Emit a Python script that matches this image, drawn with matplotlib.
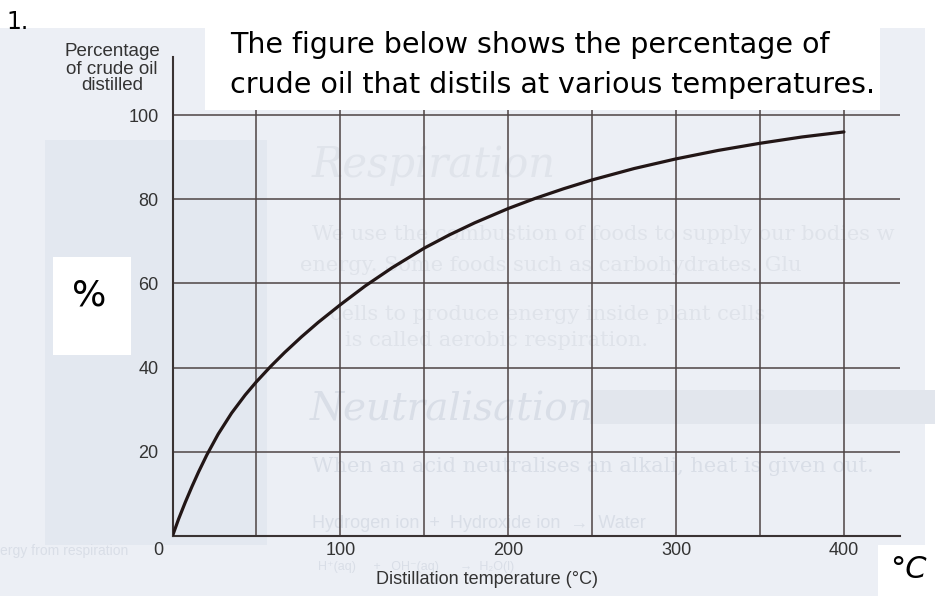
import matplotlib.pyplot as plt
from matplotlib.patches import Rectangle

# curve (temperature in degC, percentage distilled)
temp = [0, 3.6, 7.6, 11.6, 15.5, 20.5, 27.2, 35.2, 43.3, 50, 58.5, 66.8, 76.8,
        86.8, 100, 114.8, 130.9, 150, 165, 180, 200, 216, 233, 250, 275, 300,
        325, 350, 375, 400]
pct = [0, 4.0, 8.0, 11.75, 15.2, 19.3, 24.2, 29.2, 33.5, 36.65, 40.3, 43.6,
       47.3, 50.75, 54.95, 59.4, 63.75, 68.4, 71.55, 74.4, 77.8, 80.2, 82.5,
       84.6, 87.3, 89.6, 91.6, 93.3, 94.8, 96.0]

x_grid = [50, 100, 150, 200, 250, 300, 350, 400]
x_labels = ['', '100', '', '200', '', '300', '', '400']
y_grid = [20, 40, 60, 80, 100]

W, H = 935, 596


def fx(x):
    return x / W


def fy(y):
    return 1 - y / H


def box(x0, y0, x1, y1, color, z):
    fig.add_artist(Rectangle((fx(x0), fy(y1)), (x1 - x0) / W, (y1 - y0) / H,
                             transform=fig.transFigure, facecolor=color,
                             edgecolor='none', zorder=z))


def ghost(x, y, s, size, color='#d9dee7', **kw):
    fig.text(fx(x), fy(y), s, fontsize=size, color=color, va='center',
             zorder=-1, **kw)


fig = plt.figure(figsize=(9.35, 5.96), dpi=100)
fig.patch.set_facecolor('white')

# scanned page background with the faint text that shows through
box(0, 28, 925, 596, '#eceff5', -3)
box(45, 140, 267, 545, '#e3e8f0', -2)
box(590, 390, 935, 424, '#e2e6ed', -2)

serif = 'DejaVu Serif'
sans = ['Liberation Sans', 'DejaVu Sans']
ghost(312, 165, 'Respiration', 30, '#e0e4eb', style='italic', family=serif)
ghost(312, 235, 'We use the combustion of foods to supply our bodies w', 15,
      '#dfe3ea', family=serif)
ghost(300, 265, 'energy. Some foods such as carbohydrates. Glu', 15,
      '#dfe3ea', family=serif)
ghost(330, 315, 'cells to produce energy inside plant cells', 15,
      '#dfe3ea', family=serif)
ghost(345, 340, 'is called aerobic respiration.', 15, '#dfe3ea', family=serif)
ghost(310, 410, 'Neutralisation', 28, style='italic', family=serif)
ghost(312, 466, 'When an acid neutralises an alkali, heat is given out.', 15,
      family=serif)
ghost(312, 523, 'Hydrogen ion  +  Hydroxide ion  \u2192  Water', 13, family=sans)
ghost(318, 567, 'H\u207a(aq)     +   OH\u207b(aq)      \u2192  H\u2082O(l)', 9,
      family=sans)
ghost(0, 551, 'ergy from respiration', 10, family=sans)

ax = fig.add_axes([fx(172.5), fy(536), (900 - 172.5) / W, (536 - 57) / H])
ax.set_facecolor('none')
ax.set_xlim(0, 433.4)
ax.set_ylim(0, 113.8)

for v in x_grid:
    ax.axvline(v, color='#4d4444', lw=1.1, zorder=1)
for v in y_grid:
    ax.axhline(v, color='#4d4444', lw=1.1, zorder=1)

ax.plot(temp, pct, color='#221616', lw=2.3, solid_capstyle='round',
        solid_joinstyle='round', zorder=3)

for s in ['top', 'right']:
    ax.spines[s].set_visible(False)
for s in ['left', 'bottom']:
    ax.spines[s].set_color('#3a3333')
    ax.spines[s].set_linewidth(1.5)

ax.set_xticks(x_grid)
ax.set_xticklabels(x_labels)
ax.set_yticks(y_grid)
ax.tick_params(length=0, labelsize=13, labelcolor='#333333')
ax.tick_params(axis='x', pad=4)
ax.tick_params(axis='y', pad=10)
for lab in ax.get_xticklabels() + ax.get_yticklabels():
    lab.set_family('Liberation Sans')
ax.annotate('0', (0, 0), xytext=(-10.5, -4), textcoords='offset points',
            ha='center', va='top', fontsize=13, color='#333333',
            family='Liberation Sans')

fig.text(fx(112), fy(69), 'Percentage\nof crude oil\ndistilled', ha='center',
         va='center', fontsize=13.5, color='#333333', family='Liberation Sans',
         linespacing=1.0)
fig.text(fx(487), fy(580), 'Distillation temperature (\u00b0C)', ha='center',
         va='center', fontsize=13, color='#333333', family='Liberation Sans')

# white cut-outs pasted onto the scan
box(205, 28, 880, 110, 'white', 5)
box(53, 257, 131, 355, 'white', 5)
box(878, 545, 935, 596, 'white', 5)

fig.text(fx(230), fy(45), 'The figure below shows the percentage of', fontsize=20.5,
         color='black', va='center', ha='left', zorder=6)
fig.text(fx(230), fy(85), 'crude oil that distils at various temperatures.',
         fontsize=20.5, color='black', va='center', ha='left', zorder=6)
fig.text(fx(89), fy(296), '%', fontsize=26, color='black', ha='center',
         va='center', zorder=6)
fig.text(fx(908), fy(570), '\u00b0C', fontsize=22, style='italic', color='black',
         ha='center', va='center', zorder=6)
fig.text(fx(6), fy(22), '1.', fontsize=17, color='black', ha='left',
         va='center', zorder=6)

fig.savefig('out.png', dpi=100)
